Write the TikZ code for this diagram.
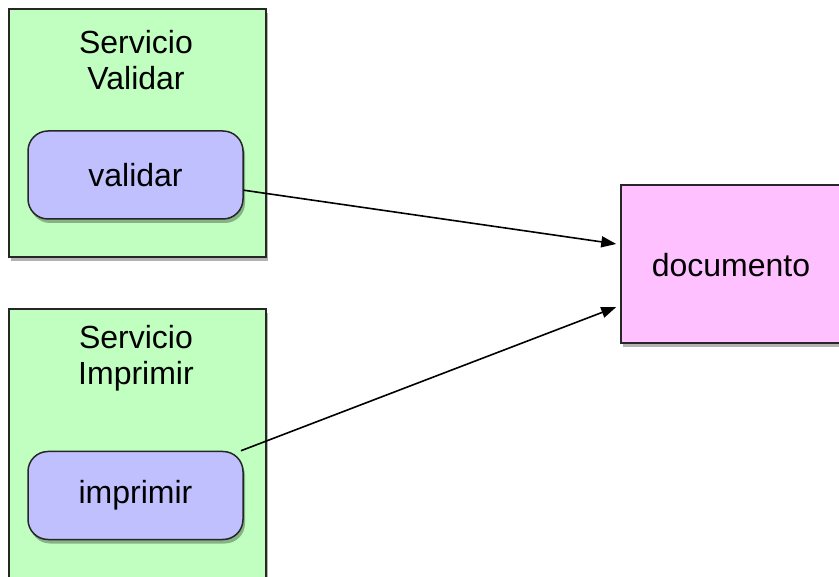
\documentclass[tikz,border=0pt]{standalone}
\usepackage{fontspec}
\setmainfont{Liberation Sans}
\usetikzlibrary{shadows,arrows.meta,calc}
\definecolor{svcgreen}{RGB}{192,255,192}
\definecolor{opblue}{RGB}{192,192,255}
\definecolor{docpink}{RGB}{255,192,255}
\tikzset{
  shadowed/.style={drop shadow={shadow xshift=2pt,shadow yshift=-4pt,fill=black,opacity=0.3}},
  svcbox/.style={draw=black!85,line width=1.5pt,fill=svcgreen,shadowed,inner sep=0pt},
  opbox/.style={draw=black!85,line width=1.5pt,fill=opblue,rounded corners=20pt,shadowed,inner sep=0pt,
    minimum width=215pt,minimum height=88pt},
  docbox/.style={draw=black!85,line width=1.5pt,fill=docpink,shadowed,inner sep=0pt},
  lbl/.style={align=center,font=\fontsize{32}{36}\selectfont},
  conn/.style={line width=1.6pt,-{Triangle[length=15pt,width=11pt]}}
}
\begin{document}
\begin{tikzpicture}[x=1pt,y=-1pt]
\clip (0,0) rectangle (839,577);
\node[svcbox,minimum width=257pt,minimum height=248pt] (svc1) at (137.5,133) {};
\node[svcbox,minimum width=257pt,minimum height=311pt] (svc2) at (137.5,464.5) {};
\node[docbox,minimum width=220pt,minimum height=158pt] (doc) at (731,264) {};
\node[lbl] (t1) at (136,60) {Servicio\\Validar};
\node[lbl] (t2) at (136,358) {Servicio\\Imprimir};
\node[opbox,lbl] (validar) at (135.5,175) {validar};
\node[opbox,lbl] (imprimir) at (135.5,495.5) {imprimir};
\node[lbl] (doctext) at (731,265) {documento};
\draw[conn] (validar.-8) -- ($(doc.west)+(-4,-20)$);
\draw[conn] (imprimir.23) -- ($(doc.west)+(-4,43)$);
\end{tikzpicture}
\end{document}
